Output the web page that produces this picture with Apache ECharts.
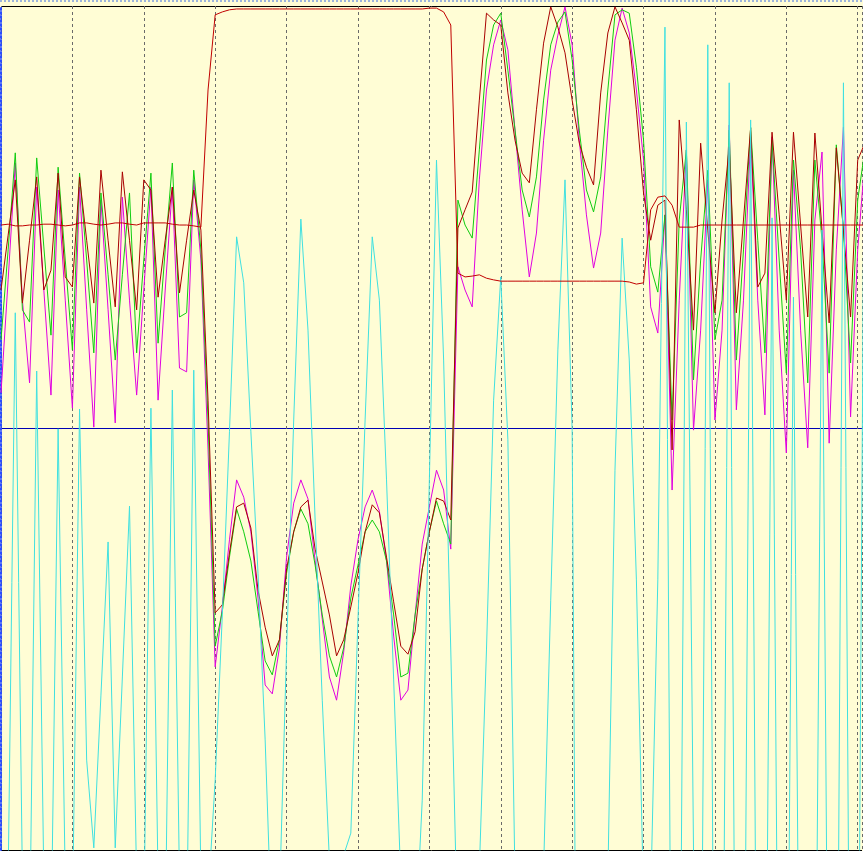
<!DOCTYPE html>
<html>
<head>
<meta charset="utf-8">
<title>scope</title>
<script src="https://cdn.jsdelivr.net/npm/echarts@6.0.0/dist/echarts.min.js"></script>
<style>
html,body{margin:0;padding:0;background:#fffdd5;}
#scope{width:863px;height:851px;}
</style>
</head>
<body>
<div id="scope"></div>
<script>
// sample values, one per time step (10 steps per division), volts
var stepRef = [4.81,4.83,4.79,4.79,4.81,4.81,4.83,4.83,4.81,4.79,
 4.81,4.86,4.86,4.83,4.81,4.83,4.86,4.86,4.83,4.81,
 4.86,4.86,4.86,4.86,4.83,4.81,4.81,4.79,4.76,8.01,
 9.79,9.86,9.91,9.93,9.93,9.93,9.93,9.93,9.93,9.93,
 9.93,9.93,9.93,9.93,9.93,9.93,9.93,9.93,9.93,9.93,
 9.93,9.93,9.93,9.93,9.93,9.93,9.93,9.93,9.93,9.93,
 9.95,9.95,9.86,9.55,3.67,3.58,3.60,3.63,3.55,3.51,
 3.48,3.48,3.48,3.48,3.48,3.48,3.48,3.48,3.48,3.48,
 3.48,3.48,3.48,3.48,3.48,3.48,3.48,3.48,3.46,3.41,
 3.44,5.17,5.47,5.50,5.28,4.76,4.76,4.76,4.81,4.81,
 4.81,4.81,4.81,4.81,4.81,4.81,4.81,4.81,4.81,4.81,
 4.81,4.81,4.81,4.81,4.81,4.81,4.81,4.81,4.81,4.81,
 4.81,4.81];

var redSig = [3.27,4.57,5.88,2.96,4.45,5.95,3.27,3.74,6.04,3.58,
 3.34,5.95,4.45,2.96,6.11,4.45,2.87,6.07,4.45,2.80,
 5.88,5.64,3.10,4.45,5.71,3.20,4.45,5.64,4.69,0.66,
 -4.38,-4.19,-2.96,-1.87,-1.78,-2.37,-3.84,-4.72,-5.40,-5.02,
 -3.34,-2.46,-1.87,-1.71,-2.87,-3.65,-4.43,-5.40,-5.02,-4.24,
 -3.44,-2.46,-1.82,-2.01,-3.06,-4.12,-5.17,-5.36,-4.83,-3.34,
 -2.46,-1.66,-1.73,-2.18,4.74,5.17,5.59,7.77,9.83,9.67,
 9.55,7.94,6.82,6.04,5.81,7.54,9.12,9.98,9.50,8.89,
 7.77,6.75,6.18,5.76,7.94,9.36,9.98,9.60,9.19,7.54,
 5.57,4.45,5.28,5.40,-0.52,7.30,5.17,2.32,6.75,4.69,
 2.73,4.93,6.66,2.73,4.93,7.11,3.34,3.67,7.01,5.05,
 3.03,7.01,4.81,2.63,6.99,4.69,2.49,6.64,4.69,2.63,
 6.35,6.75];

var greenSig = [2.09,4.22,6.52,2.80,2.51,6.40,4.29,2.20,6.18,3.98,
 1.85,6.04,3.98,1.78,5.57,3.63,1.61,3.63,5.57,1.78,
 3.98,6.04,2.01,4.22,6.28,2.63,2.73,6.11,4.22,0.19,
 -5.17,-4.34,-3.06,-1.92,-2.46,-3.15,-4.34,-5.52,-5.85,-5.02,
 -3.44,-2.46,-1.92,-2.27,-3.25,-4.43,-5.40,-5.90,-5.21,-4.03,
 -3.25,-2.46,-2.18,-2.46,-3.15,-4.43,-5.90,-5.81,-4.43,-3.34,
 -2.46,-1.73,-2.27,-2.75,5.40,4.81,4.50,6.59,8.72,9.55,
 9.83,8.48,7.06,5.64,5.00,5.95,7.77,9.08,9.62,9.86,
 8.72,7.06,5.64,5.12,5.95,8.01,9.79,9.91,9.83,8.55,
 6.82,3.82,3.22,5.05,0.19,4.93,6.59,1.14,3.98,6.11,
 2.09,3.03,7.06,1.61,4.22,7.13,4.45,1.78,6.82,3.98,
 1.30,6.35,4.22,1.07,6.35,4.45,1.30,6.71,4.69,1.54,
 5.40,6.59];

var magentaSig = [0.83,3.51,6.28,3.03,1.07,5.71,3.27,0.78,5.64,3.03,
 0.47,5.71,2.80,0.02,5.40,2.80,0.12,5.47,3.03,0.78,
 3.27,5.71,0.66,3.27,5.71,1.42,1.33,5.88,3.98,-0.52,
 -5.66,-4.24,-2.65,-1.23,-1.64,-2.46,-4.03,-6.09,-6.30,-5.21,
 -3.06,-1.78,-1.23,-1.68,-3.15,-4.53,-5.90,-6.45,-5.31,-3.74,
 -2.65,-1.87,-1.47,-1.97,-3.15,-4.93,-6.45,-6.21,-4.43,-2.75,
 -1.87,-1.00,-1.47,-2.87,3.82,3.27,2.87,5.88,8.01,9.08,
 9.67,8.96,7.06,5.17,3.58,4.62,6.82,8.48,9.31,9.98,
 9.08,6.82,5.05,3.79,4.62,7.06,9.19,9.95,9.36,8.01,
 6.35,2.87,2.25,5.05,-1.47,3.03,6.59,-0.05,2.32,5.88,
 0.19,2.32,7.18,0.43,3.03,6.90,3.03,0.31,6.90,2.32,
 -0.59,6.11,2.32,-0.47,4.93,6.54,-0.36,4.22,7.13,0.26,
 4.22,6.35];

// the fast trace swings far below the screen, only its tops are visible
var cyanSig = [-11.18,-10.71,2.73,-10.71,-12.37,1.35,-10.71,-12.37,-0.02,-10.71,
 -11.66,0.45,-7.87,-9.95,-6.33,-2.70,-9.95,-5.90,-1.85,-10.71,
 -11.66,0.47,-10.71,-12.13,0.90,-10.71,-12.13,1.37,-10.71,-11.18,
 -8.34,-4.43,-0.09,4.53,3.44,-0.09,-3.44,-7.39,-12.37,-11.18,
 -5.26,0.19,4.95,2.32,-2.18,-6.45,-10.24,-11.66,-10.12,-9.60,
 -4.55,0.19,4.53,3.03,-1.23,-5.97,-10.71,-12.37,-12.37,-8.82,
 -1.23,6.35,1.61,-5.26,-12.37,-13.55,-13.55,-10.47,-5.26,0.66,
 3.58,-0.28,-10.71,-12.37,-12.37,-12.37,-10.47,-4.08,1.85,5.88,
 -0.05,-25.40,-18.29,-13.55,-12.37,-10.71,-1.00,4.50,1.61,-3.60,
 -11.18,-11.18,-3.60,9.50,-18.0,-17.5,7.25,-10.00,-17.0,9.08,
 -18.5,-18.0,8.18,-18.5,-18.0,7.30,-19.0,-18.5,4.98,-18.0,
 -19.0,3.10,-18.5,-18.0,-17.0,4.69,-18.5,-19.0,8.18,-18.0,
 -17.0,9.19];

// pair each value with its time step
function toPoints(arr){
	return arr.map(function(v, i){ return [i, v]; });
}

function trace(name, arr, color){
	return {
		name: name,
		type: 'line',
		data: toPoints(arr),
		showSymbol: false,
		symbol: 'none',
		clip: true,
		silent: true,
		lineStyle: {color: color, width: 1},
		itemStyle: {color: color}
	};
}

var myChart = echarts.init(document.getElementById('scope'));

var option = {
	backgroundColor: '#fffdd5',
	animation: false,
	grid: {left: 1, right: 1, top: 6, bottom: 1},
	graphic: [{
		type: 'line',
		shape: {x1: 0, y1: 1, x2: 863, y2: 1},
		style: {stroke: '#9db4dc', lineWidth: 2, lineDash: [2, 2]}
	}],
	xAxis: {
		type: 'value',
		min: 0,
		max: 120.6,
		interval: 10,
		axisLine: {show: false},
		axisTick: {show: false},
		axisLabel: {show: false},
		splitLine: {
			show: true,
			lineStyle: {color: '#6a6a6a', width: 1, type: [3, 3]}
		}
	},
	yAxis: {
		type: 'value',
		min: -10,
		max: 10,
		interval: 10,
		axisLine: {show: true, lineStyle: {color: '#2a4cff', width: 2, type: 'dotted'}},
		axisTick: {show: false},
		axisLabel: {show: false},
		splitLine: {
			show: true,
			lineStyle: {color: ['#000000', '#0000b4', '#000000'], width: 1}
		}
	},
	series: [
		trace('magenta', magentaSig, '#e000e0'),
		trace('green', greenSig, '#10cc10'),
		trace('red', redSig, '#a80000'),
		trace('cyan', cyanSig, '#40e0e0'),
		trace('step', stepRef, '#c00000')
	]
};

myChart.setOption(option);
</script>
</body>
</html>
